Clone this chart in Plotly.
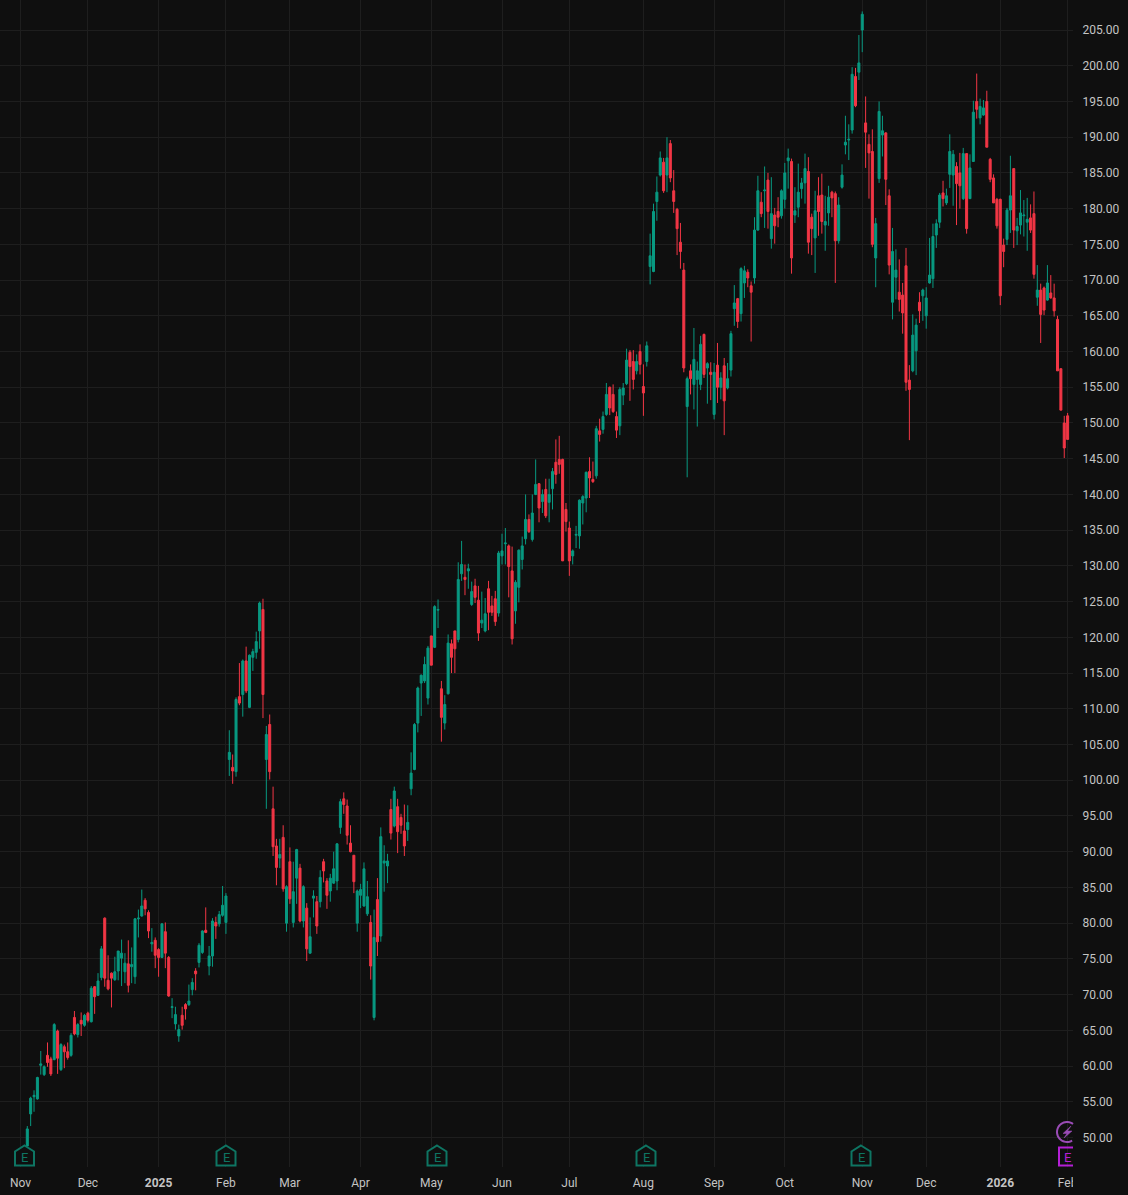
import math
import plotly.graph_objects as go

opens = [
    48.8,53.3,55.7,55.4,60.1,58.8,61.5,61.0,60.9,64.9,
    59.5,62.7,62.0,61.5,66.8,64.4,66.4,65.7,67.4,66.2,
    71.1,69.9,72.4,80.7,72.0,73.0,72.1,73.3,75.1,73.2,
    74.3,73.9,72.5,80.6,81.0,83.2,81.5,77.1,77.6,76.3,
    75.2,78.8,75.2,68.2,65.9,64.2,67.1,68.6,68.6,70.7,
    73.3,74.5,75.9,79.0,74.0,75.4,80.1,79.9,81.1,80.1,
    102.9,101.8,101.2,111.7,112.0,116.7,110.2,117.2,117.9,120.9,
    123.9,102.9,107.8,96.0,90.8,89.1,92.0,80.0,88.6,80.1,
    86.3,87.7,80.3,82.1,75.8,83.5,83.0,83.0,88.6,85.9,
    84.5,85.6,85.9,93.4,97.4,96.4,91.2,89.5,80.0,83.9,
    82.4,81.3,80.1,66.8,83.3,78.2,88.4,88.0,95.9,93.6,
    96.3,94.8,92.9,93.1,98.8,101.5,108.0,113.6,113.9,111.5,
    120.2,118.6,123.8,112.8,108.0,112.1,119.1,120.9,119.7,128.9,
    128.4,129.3,124.6,127.2,125.2,122.0,120.9,126.8,124.4,125.4,
    123.4,131.4,133.1,132.8,129.3,123.7,127.0,130.9,133.8,136.5,
    133.7,140.0,141.5,139.0,140.7,138.9,140.8,144.5,144.9,144.9,
    137.9,135.3,131.4,134.3,134.2,138.8,139.5,143.2,142.1,142.6,
    148.9,149.1,151.2,155.0,154.0,150.9,149.6,153.9,155.5,159.9,
    158.6,157.3,160.0,155.1,158.6,171.9,171.2,181.0,184.7,186.5,
    184.7,189.1,182.5,179.9,175.3,171.4,152.3,157.3,155.4,156.1,
    155.4,162.4,157.7,157.1,151.2,158.1,155.0,158.0,154.9,157.4,
    166.0,167.4,165.3,169.6,171.1,169.2,170.3,177.0,180.9,182.5,
    184.0,175.8,179.1,179.6,179.0,181.3,186.7,186.6,179.1,180.2,
    182.8,183.6,185.2,178.8,175.9,181.8,181.9,177.7,179.4,182.3,
    182.1,175.5,183.0,188.9,189.6,191.0,198.5,199.1,205.0,192.0,
    189.0,188.0,173.1,184.2,190.3,190.6,181.8,166.9,170.4,168.3,
    167.9,172.0,156.0,157.3,160.1,166.9,167.8,165.0,169.6,170.2,
    176.3,178.1,182.2,180.8,184.8,184.7,185.9,185.0,181.4,187.7,
    181.4,186.6,195.0,192.7,193.1,195.0,186.9,184.3,181.3,181.3,
    174.9,175.7,179.8,185.6,176.9,177.7,179.0,178.1,178.7,179.3,
    167.6,168.6,168.9,167.2,168.2,167.5,164.5,157.6,150.0,151.0,
]
highs = [
    51.6,55.7,56.6,58.5,62.1,60.1,63.3,61.3,66.0,65.1,
    63.2,63.0,63.3,64.6,67.7,66.0,67.5,67.3,67.6,71.2,
    71.2,73.0,76.8,80.8,75.5,73.1,75.3,76.1,77.7,75.8,
    77.6,76.6,80.7,81.9,84.7,83.5,81.8,79.3,78.0,76.5,
    80.0,80.1,75.4,69.5,68.3,65.8,68.3,68.8,71.4,72.3,
    73.7,77.2,79.0,82.2,76.8,80.7,80.9,81.7,85.2,84.2,
    107.0,103.6,111.6,116.4,116.9,118.7,117.6,118.4,120.8,125.0,
    125.4,107.6,109.2,99.1,91.8,91.8,93.7,85.3,90.6,88.6,
    90.4,88.3,85.3,82.8,80.8,84.6,83.8,87.4,89.0,86.3,
    86.9,90.0,91.2,97.4,98.3,97.3,93.7,89.5,84.7,85.5,
    88.5,85.9,81.1,81.9,86.3,93.4,90.9,89.7,97.4,99.1,
    97.4,95.3,96.6,96.5,103.9,108.0,113.1,114.8,117.3,118.8,
    120.2,124.5,125.3,113.9,111.9,120.4,119.7,120.9,130.5,133.5,
    130.2,130.3,127.8,128.2,127.2,126.4,125.5,127.9,125.8,126.5,
    132.1,134.5,135.3,133.0,132.7,128.0,132.3,134.1,140.0,137.2,
    140.0,144.9,141.6,140.7,142.2,142.2,143.7,147.7,148.2,145.0,
    138.8,136.2,132.3,135.6,139.3,139.9,143.2,145.2,144.6,149.6,
    150.6,151.6,155.6,155.1,155.4,151.6,155.0,155.6,160.4,160.2,
    160.2,159.6,161.0,158.2,161.4,176.5,180.7,184.5,188.0,187.1,
    190.0,189.6,185.4,180.1,178.0,172.4,156.5,158.2,163.3,158.6,
    162.2,162.5,158.5,158.5,158.4,161.2,157.1,159.1,158.4,162.9,
    169.3,167.5,171.8,172.0,171.5,169.8,178.8,184.6,182.3,185.9,
    185.0,184.4,180.1,181.6,182.7,186.4,188.4,187.0,183.0,186.3,
    184.3,187.7,187.2,179.3,182.5,184.4,184.9,181.8,183.2,182.5,
    182.4,181.6,186.2,193.0,191.8,199.8,199.7,204.3,207.6,195.7,
    190.4,191.1,178.7,195.0,193.0,190.7,182.7,177.3,174.3,172.9,
    169.6,174.5,158.1,165.2,164.6,168.3,168.8,169.0,175.9,177.9,
    178.5,182.2,183.9,182.8,190.4,188.2,186.5,187.8,188.5,187.7,
    187.6,195.1,198.9,195.4,195.2,196.5,187.1,184.8,181.5,181.4,
    175.8,180.1,187.4,185.6,178.7,182.6,181.2,181.5,180.6,182.4,
    172.1,169.5,169.1,172.1,170.7,169.5,165.0,157.6,151.0,151.4,
]
lows = [
    48.8,51.6,53.6,55.3,58.8,58.6,59.9,58.6,60.8,58.9,
    59.3,59.7,60.9,61.3,64.3,64.0,64.2,65.5,66.1,66.1,
    67.3,69.8,72.0,71.1,70.6,68.2,71.9,72.0,71.2,71.6,
    70.3,71.6,71.5,78.0,80.9,81.1,77.9,76.0,73.7,72.5,
    75.1,73.7,69.7,66.7,65.1,63.4,65.1,66.5,68.4,69.9,
    70.6,73.8,75.7,78.6,72.7,73.9,77.8,79.5,80.9,78.5,
    100.6,99.5,100.5,110.5,108.9,112.2,110.1,115.3,117.0,118.4,
    108.7,96.0,100.1,89.4,85.3,87.7,84.4,78.8,82.7,79.4,
    82.7,80.1,79.4,74.7,75.7,80.8,78.5,82.2,85.7,82.0,
    83.0,85.5,84.6,92.5,95.3,91.0,89.9,84.2,78.8,82.1,
    82.3,81.0,72.1,66.4,75.4,77.4,84.4,85.6,91.7,93.4,
    89.8,92.5,89.4,91.5,97.9,101.4,106.7,109.0,113.6,110.6,
    116.1,118.5,121.3,105.4,107.1,112.0,115.0,115.0,119.3,127.9,
    125.9,126.8,124.4,124.8,119.5,121.3,120.7,121.0,123.0,121.6,
    122.9,130.2,130.2,125.6,119.0,121.9,124.9,129.5,133.0,134.6,
    133.4,139.9,136.1,137.4,136.7,136.1,137.9,141.5,142.9,130.7,
    134.8,128.6,130.2,132.5,132.4,135.8,137.5,139.5,141.6,142.2,
    147.4,148.5,151.0,151.1,151.4,147.9,148.3,152.5,155.3,153.1,
    154.7,156.8,156.8,151.0,157.9,169.4,171.1,178.3,184.5,182.2,
    182.3,183.7,179.4,173.5,171.6,157.1,142.4,154.0,151.9,149.5,
    154.6,156.3,152.7,153.2,150.5,152.8,153.3,148.3,154.7,156.5,
    163.6,163.3,164.2,167.5,169.0,161.4,169.5,176.9,178.8,177.3,
    177.2,174.4,175.1,177.4,178.6,180.0,182.8,170.9,178.0,178.8,
    181.4,180.7,173.7,173.5,171.0,176.2,176.5,174.1,177.6,178.8,
    169.6,175.1,182.8,187.6,186.8,190.5,194.2,198.0,201.9,185.7,
    181.4,174.6,169.0,183.6,187.3,180.5,170.8,164.5,167.3,165.6,
    162.5,154.5,147.6,157.1,156.7,164.0,164.3,163.2,169.5,168.9,
    174.5,177.3,180.3,180.5,182.9,180.4,177.7,180.0,181.2,176.5,
    181.4,186.6,192.6,191.8,193.0,188.6,183.7,180.8,177.2,166.5,
    171.8,174.9,176.6,174.5,174.9,176.4,176.1,174.1,176.6,170.2,
    166.4,161.2,165.1,167.1,167.4,164.9,157.3,151.8,145.1,147.7,
]
closes = [
    51.2,55.5,55.9,58.4,60.3,59.9,60.5,58.9,65.8,61.1,
    63.0,62.0,61.2,64.3,64.5,65.8,65.9,67.1,66.4,70.9,
    69.7,71.9,76.4,72.3,70.8,72.3,73.2,76.1,75.8,74.4,
    71.3,74.2,80.6,80.7,82.4,82.0,78.9,77.3,75.5,75.2,
    79.9,75.8,69.8,68.3,67.2,65.1,65.7,68.0,69.1,71.7,
    72.9,76.9,78.9,78.7,75.4,80.3,79.6,81.2,82.5,83.8,
    103.9,101.3,111.3,110.8,116.7,112.5,117.5,118.0,119.4,124.8,
    112.0,106.4,101.2,90.7,87.8,89.6,84.8,85.1,83.4,84.4,
    90.3,80.3,85.1,76.4,78.1,83.8,79.6,86.4,87.3,83.9,
    86.3,87.6,91.1,97.0,96.6,92.3,90.0,85.8,84.5,84.7,
    87.6,83.7,74.0,78.0,77.4,92.1,88.7,88.7,92.6,98.5,
    92.8,93.7,90.8,94.1,101.0,107.8,112.9,114.7,116.2,118.5,
    116.1,124.3,123.9,108.8,110.6,119.2,117.2,118.4,128.1,130.2,
    128.1,129.6,126.4,125.6,120.6,122.4,123.3,123.5,123.5,122.2,
    131.8,132.1,133.2,129.9,119.8,127.7,132.2,132.8,136.5,134.8,
    137.4,141.4,138.1,140.0,137.0,140.0,143.2,142.8,144.2,130.7,
    136.2,130.7,132.1,134.4,139.2,139.7,143.1,142.3,141.8,149.2,
    148.4,150.9,154.0,152.1,151.6,149.0,154.7,154.9,158.8,157.9,
    156.1,158.6,158.2,154.2,160.8,173.4,179.6,182.3,187.1,182.5,
    187.1,184.3,181.0,177.2,174.0,157.7,156.2,156.2,158.9,157.3,
    161.0,156.8,158.3,156.8,157.1,155.0,156.3,153.1,156.2,162.5,
    166.8,164.2,171.6,171.3,170.3,168.3,177.0,182.5,179.3,182.6,
    179.6,179.3,177.6,178.8,182.5,185.0,187.1,173.1,179.7,182.3,
    183.6,185.6,175.3,177.2,179.7,179.6,178.2,178.2,181.6,181.5,
    175.5,180.5,184.7,189.3,189.7,198.8,194.4,200.4,207.2,190.7,
    187.8,175.0,177.9,193.6,190.9,184.1,172.1,174.0,171.4,167.3,
    165.4,155.7,154.7,162.3,163.7,165.7,168.6,167.5,170.7,176.1,
    177.9,181.9,181.4,181.8,188.0,187.6,183.5,183.2,187.7,177.2,
    185.7,193.5,193.9,194.3,194.1,188.6,184.1,180.8,177.6,167.8,
    174.0,179.8,181.8,177.0,177.5,179.4,179.1,178.5,177.0,170.8,
    168.6,165.2,165.8,169.6,167.5,165.7,157.3,151.8,146.5,147.7,
]

# Session numbers of the first trading day of each month, and their axis labels.
month_sessions = [-2, 18, 39, 59, 78, 99, 120, 141, 161, 183, 204, 225, 248, 267, 289, 309]
month_labels = ["Nov", "Dec", "<b>2025</b>", "Feb", "Mar", "Apr", "May", "Jun", "Jul",
                "Aug", "Sep", "Oct", "Nov", "Dec", "<b>2026</b>", "Feb"]
price_ticks = list(range(50, 206, 5))
earnings_icon_centres = [24.5, 226, 437, 646, 861]

BG = "#0f0f0f"
GRID = "#1e1e1e"
TEXT = "#c4c4c4"
UP = "#089981"
DOWN = "#f23645"
ICON_TEAL = "#0e7563"
ICON_PURPLE = "#b41fd6"
ICON_VIOLET = "#9a4cb6"
FONT = "Roboto"

W, H = 1128, 1195
PANE_W, PANE_H = 1073, 1167


# Overlay badges are placed in page pixels, converted to paper coordinates.
def px(x):
    return x / PANE_W


def py(y):
    return (PANE_H - y) / PANE_H


def poly(points, close=True):
    d = "M " + " L ".join(f"{px(x):.5f},{py(y):.5f}" for x, y in points)
    return d + (" Z" if close else "")


shapes = []
annotations = []

for cx in earnings_icon_centres:
    house = [(cx, 1145.5), (cx + 9.5, 1151.5), (cx + 9.5, 1165.5),
             (cx - 9.5, 1165.5), (cx - 9.5, 1151.5)]
    shapes.append(dict(type="path", xref="paper", yref="paper", path=poly(house),
                       line=dict(color=ICON_TEAL, width=2), fillcolor=BG, layer="above"))
    annotations.append(dict(xref="paper", yref="paper", x=px(cx), y=py(1157), text="E",
                            showarrow=False, xanchor="center", yanchor="middle",
                            font=dict(family=FONT, size=13, color=ICON_TEAL)))

# Hides the part of the last month label that runs past the pane edge.
shapes.append(dict(type="rect", xref="paper", yref="paper", layer="above",
                   x0=px(PANE_W), x1=px(W), y0=py(H), y1=py(1146),
                   line=dict(width=0), fillcolor=BG))

# Upcoming-earnings badge, cut off by the pane edge.
bracket = [(1073, 1147.5), (1059, 1147.5), (1059, 1165.5), (1073, 1165.5)]
shapes.append(dict(type="path", xref="paper", yref="paper", layer="above", path=poly(bracket, close=False),
                   line=dict(color=ICON_PURPLE, width=2)))
annotations.append(dict(xref="paper", yref="paper", x=px(1067), y=py(1157), text="E",
                        showarrow=False, xanchor="center", yanchor="middle",
                        font=dict(family=FONT, size=13, color=ICON_PURPLE)))

# Dividend-style lightning badge above it.
arc = []
for deg in range(53, 308, 8):
    a = math.radians(deg)
    arc.append((1067 + 10 * math.cos(a), 1132 - 10 * math.sin(a)))
shapes.append(dict(type="path", xref="paper", yref="paper", layer="above", path=poly(arc, close=False),
                   line=dict(color=ICON_VIOLET, width=2)))
bolt = [(1071, 1126), (1063, 1133.5), (1067, 1133.5), (1064, 1138), (1072, 1131), (1067.5, 1131)]
shapes.append(dict(type="path", xref="paper", yref="paper", layer="above", path=poly(bolt),
                   line=dict(color=ICON_VIOLET, width=0.5), fillcolor=ICON_VIOLET))

fig = go.Figure(go.Candlestick(
    x=list(range(len(closes))),
    open=opens, high=highs, low=lows, close=closes,
    increasing=dict(line=dict(color=UP, width=1), fillcolor=UP),
    decreasing=dict(line=dict(color=DOWN, width=1), fillcolor=DOWN),
    whiskerwidth=0,
    hoverinfo="none",
))

fig.update_layout(
    width=W, height=H,
    margin=dict(l=0, r=W - PANE_W, t=0, b=H - PANE_H),
    paper_bgcolor=BG, plot_bgcolor=BG,
    showlegend=False,
    boxgap=0.15,
    font=dict(family=FONT, size=12, color=TEXT),
    shapes=shapes,
    annotations=annotations,
    xaxis=dict(
        range=[-8.108, 310.6], rangeslider=dict(visible=False),
        tickmode="array", tickvals=month_sessions, ticktext=month_labels,
        showgrid=True, gridcolor=GRID, gridwidth=1, zeroline=False, showline=False,
        ticks="outside", ticklen=5, tickcolor=BG,
        tickfont=dict(family=FONT, size=12, color=TEXT),
    ),
    yaxis=dict(
        side="right", range=[45.87, 209.2],
        tickmode="array", tickvals=price_ticks, ticktext=[f"{v:.2f}" for v in price_ticks],
        showgrid=True, gridcolor=GRID, gridwidth=1, zeroline=False, showline=False,
        ticks="outside", ticklen=6, tickcolor=BG,
        tickfont=dict(family=FONT, size=12, color=TEXT),
    ),
)

fig.write_html("out.html", config=dict(displayModeBar=False))
